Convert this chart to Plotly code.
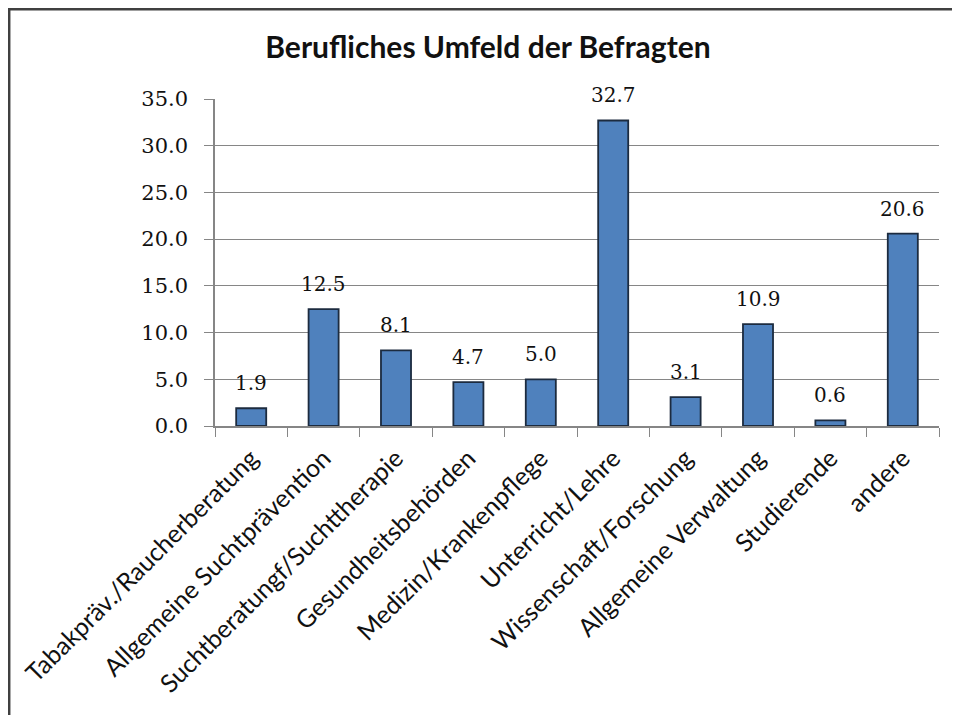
import plotly.graph_objects as go

categories = [
    "Tabakpräv./Raucherberatung",
    "Allgemeine Suchtprävention",
    "Suchtberatungf/Suchttherapie",
    "Gesundheitsbehörden",
    "Medizin/Krankenpflege",
    "Unterricht/Lehre",
    "Wissenschaft/Forschung",
    "Allgemeine Verwaltung",
    "Studierende",
    "andere",
]
values = [1.9, 12.5, 8.1, 4.7, 5.0, 32.7, 3.1, 10.9, 0.6, 20.6]
y_ticks = [0, 5, 10, 15, 20, 25, 30, 35]
y_tick_labels = [f"{v:.1f}" for v in y_ticks]
title_text = "Berufliches Umfeld der Befragten"

# the page adds an 8px body margin; compensate so screen positions match
OFF = 8
W, H = 960 - 2 * OFF, 715 - OFF
L, R, T, B = 215 - OFF, 21 - OFF, 99 - OFF, 289
pw, ph = W - L - R, H - T - B

def fig_x(fx):
    return (fx - L) / pw

def fig_y(fy):
    return (H - B - fy) / ph

serif = "DejaVu Serif"
sans = "Lato"

fig = go.Figure()
fig.add_trace(go.Bar(
    x=categories, y=values,
    marker=dict(color="#4F81BD", line=dict(color="#1c2b3f", width=1.8)),
    hoverinfo="x+y",
))

for c, v in zip(categories, values):
    fig.add_annotation(
        x=c, y=v, text=f"{v:.1f}", showarrow=False,
        yanchor="bottom", yshift=11,
        font=dict(family=serif, size=20, color="#111"),
    )

# chart border (left and top lines), at the very edge of the figure
fig.add_shape(type="line", xref="paper", yref="paper",
              x0=fig_x(1.2), x1=fig_x(1.2),
              y0=fig_y(0), y1=fig_y(H),
              line=dict(color="#404040", width=2.5))
fig.add_shape(type="line", xref="paper", yref="paper",
              x0=fig_x(0), x1=fig_x(W),
              y0=fig_y(1.2), y1=fig_y(1.2),
              line=dict(color="#404040", width=2.5))

fig.update_layout(
    width=W, height=H,
    margin=dict(l=L, r=R, t=T, b=B, autoexpand=False),
    paper_bgcolor="white", plot_bgcolor="white",
    showlegend=False,
    bargap=0.585,
    title=dict(text=f"<b>{title_text}</b>", x=(488 - OFF) / W, xanchor="center",
               y=1 - (47 - OFF) / H, yanchor="middle", yref="container",
               font=dict(family=sans, size=30, color="#111")),
    xaxis=dict(
        type="category", tickangle=-45, automargin=False,
        tickson="boundaries", ticks="outside", ticklen=9, tickcolor="#868686",
        showline=True, linecolor="#868686", linewidth=1.5,
        showgrid=False, ticklabelstandoff=6,
        tickfont=dict(family=sans, size=25, color="#111"),
    ),
    yaxis=dict(
        range=[0, 35], tickvals=y_ticks, ticktext=y_tick_labels,
        automargin=False,
        ticks="outside", ticklen=9, tickcolor="#868686",
        showline=True, linecolor="#868686", linewidth=1.5,
        showgrid=True, gridcolor="#868686", gridwidth=1,
        zeroline=False, ticklabelstandoff=12,
        tickfont=dict(family=serif, size=21, color="#111"),
    ),
)

fig.write_html("out.html", config={"displayModeBar": False})
